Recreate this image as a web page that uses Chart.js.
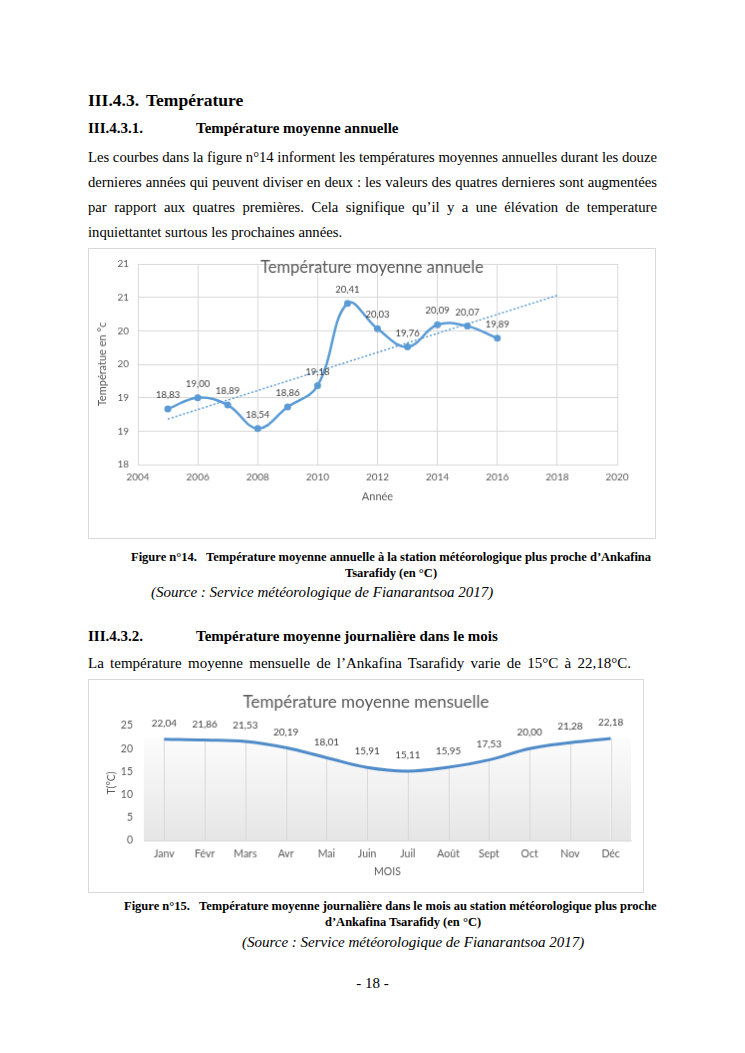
<!DOCTYPE html>
<html lang="fr">
<head>
<meta charset="utf-8">
<title>Température</title>
<script src="https://cdn.jsdelivr.net/npm/chart.js@4.4.1/dist/chart.umd.min.js"></script>
<style>
  html, body { margin: 0; padding: 0; background: #fff; }
  body { width: 745px; height: 1053px; position: relative; overflow: hidden;
         font-family: "Liberation Serif", "Times New Roman", serif; color: #000; }
  .t { position: absolute; white-space: nowrap; line-height: 20px; }
  .h1 { font-weight: bold; font-size: 17.5px; }
  .h2 { font-weight: bold; font-size: 15px; }
  .p { position: absolute; left: 88px; font-size: 14.7px; line-height: 20px; white-space: nowrap; }
  .cap { font-weight: bold; font-size: 12.5px; }
  .src { font-style: italic; font-size: 15px; }
  canvas { position: absolute; border: 1px solid #d9d9d9; }
</style>
</head>
<body>

<div class="t h1" style="left:88px; top:90px;">III.4.3.</div>
<div class="t h1" style="left:146px; top:90px;">Température</div>
<div class="t h2" style="left:88px; top:118px;">III.4.3.1.</div>
<div class="t h2" style="left:196px; top:118px;">Température moyenne annuelle</div>

<div class="p fit" data-w="569" style="top:147px;">Les courbes dans la figure n°14 informent les températures moyennes annuelles durant les douze</div>
<div class="p fit" data-w="569" style="top:172px;">dernieres années qui peuvent diviser en deux : les valeurs des quatres dernieres sont augmentées</div>
<div class="p fit" data-w="569" style="top:197px;">par rapport aux quatres premières. Cela signifique qu’il y a une élévation de temperature</div>
<div class="p" style="top:222px;">inquiettantet surtous les prochaines années.</div>

<canvas id="chart-annuel" width="568" height="291" style="left:88px; top:248px;"></canvas>

<div class="t cap" style="left:131px; top:547px;">Figure n°14.&nbsp;&nbsp; Température moyenne annuelle à la station météorologique plus proche d’Ankafina</div>
<div class="t cap" style="left:345px; top:563px;">Tsarafidy (en °C)</div>
<div class="t src" style="left:151px; top:582px;">(Source : Service météorologique de Fianarantsoa 2017)</div>

<div class="t h2" style="left:88px; top:626px;">III.4.3.2.</div>
<div class="t h2" style="left:196px; top:626px;">Température moyenne journalière dans le mois</div>
<div class="p fit" data-w="543" style="top:653px; font-size:15px;">La température moyenne mensuelle de l’Ankafina Tsarafidy varie de 15°C à 22,18°C.</div>

<canvas id="chart-mensuel" width="556" height="214" style="left:88px; top:679px;"></canvas>

<div class="t cap" style="left:124px; top:896px;">Figure n°15.&nbsp;&nbsp; Température moyenne journalière dans le mois au station météorologique plus proche</div>
<div class="t cap" style="left:325px; top:912px;">d’Ankafina Tsarafidy (en °C)</div>
<div class="t src" style="left:242px; top:932px;">(Source : Service météorologique de Fianarantsoa 2017)</div>

<div class="t" style="left:0; width:745px; text-align:center; top:973px; font-size:15px;">- 18 -</div>

<script>
// Figure 14 - température moyenne annuelle
const annees = [2005, 2006, 2007, 2008, 2009, 2010, 2011, 2012, 2013, 2014, 2015, 2016];
const tempAnnuelle = [18.83, 19.00, 18.89, 18.54, 18.86, 19.18, 20.41, 20.03, 19.76, 20.09, 20.07, 19.89];
// courbe de tendance (pointillés)
const tendanceAnnees = [2005, 2018];
const tendanceValeurs = [18.68, 20.53];
const anneeTicks = ['2004', '2006', '2008', '2010', '2012', '2014', '2016', '2018', '2020'];
const tempTicks = ['18', '19', '19', '20', '20', '21', '21'];

// Figure 15 - température moyenne mensuelle
const mois = ['Janv', 'Févr', 'Mars', 'Avr', 'Mai', 'Juin', 'Juil', 'Août', 'Sept', 'Oct', 'Nov', 'Déc'];
const tempMensuelle = [22.04, 21.86, 21.53, 20.19, 18.01, 15.91, 15.11, 15.95, 17.53, 20.00, 21.28, 22.18];
const mensuelTicks = ['0', '5', '10', '15', '20', '25'];

// Justification : chaque ligne remplit la largeur voulue
document.querySelectorAll('.p.fit').forEach(el => {
    const w = el.getBoundingClientRect().width;
    const espaces = (el.textContent.match(/ /g) || []).length;
    el.style.wordSpacing = ((Number(el.dataset.w) - w) / espaces) + 'px';
});

const police = 'Lato, "Open Sans", sans-serif';
const gris = '#595959';
const grille = '#d9d9d9';
const bleu = '#5b9bd5';

// Titre posé dans la zone de traçage (comme dans Excel)
const titreInterne = {
    id: 'titreInterne',
    afterDraw(chart, args, opts) {
        const ctx = chart.ctx;
        ctx.save();
        ctx.font = opts.size + 'px ' + police;
        ctx.fillStyle = gris;
        ctx.textAlign = 'center';
        ctx.textBaseline = 'middle';
        ctx.fillText(opts.text, chart.width / 2, opts.y);
        ctx.restore();
    }
};

// Étiquettes de valeurs au-dessus des points
const etiquettes = {
    id: 'etiquettes',
    afterDatasetsDraw(chart, args, opts) {
        const ctx = chart.ctx;
        const meta = chart.getDatasetMeta(0);
        const valeurs = chart.data.datasets[0].data;
        ctx.save();
        ctx.font = opts.size + 'px ' + police;
        ctx.fillStyle = '#404040';
        ctx.textAlign = 'center';
        ctx.textBaseline = 'middle';
        meta.data.forEach((pt, i) => {
            const v = typeof valeurs[i] === 'object' ? valeurs[i].y : valeurs[i];
            ctx.fillText(v.toFixed(2).replace('.', ','), pt.x, pt.y - opts.decalage);
        });
        ctx.restore();
    }
};

function degradeAire(chart) {
    const a = chart.chartArea;
    const g = chart.ctx.createLinearGradient(0, a.top, 0, a.bottom);
    g.addColorStop(0, '#ffffff');
    g.addColorStop(1, '#e6e6e6');
    return g;
}

// Lignes de projection et bords de l'aire (figure 15)
const projections = {
    id: 'projections',
    beforeDatasetsDraw(chart) {
        const {ctx, chartArea, scales} = chart;
        const pts = chart.getDatasetMeta(0).data;
        const base = scales.y.getPixelForValue(0);
        const premier = pts[0];
        const dernier = pts[pts.length - 1];
        ctx.save();
        ctx.fillStyle = degradeAire(chart);
        ctx.fillRect(chartArea.left, premier.y, premier.x - chartArea.left, base - premier.y);
        ctx.fillRect(dernier.x, dernier.y, chartArea.right - dernier.x, base - dernier.y);
        ctx.strokeStyle = grille;
        ctx.lineWidth = 1;
        pts.forEach(p => {
            const x = Math.round(p.x) + 0.5;
            ctx.beginPath();
            ctx.moveTo(x, p.y);
            ctx.lineTo(x, base);
            ctx.stroke();
        });
        ctx.restore();
    }
};

// Graphique annuel
new Chart(document.getElementById('chart-annuel'), {
    type: 'line',
    data: {
        datasets: [
            {
                data: annees.map((a, i) => ({x: a, y: tempAnnuelle[i]})),
                borderColor: bleu,
                backgroundColor: bleu,
                borderWidth: 2.5,
                pointRadius: 3.5,
                pointBackgroundColor: bleu,
                pointBorderWidth: 0,
                tension: 0.4
            },
            {
                data: tendanceAnnees.map((a, i) => ({x: a, y: tendanceValeurs[i]})),
                borderColor: bleu,
                borderWidth: 1.5,
                borderDash: [2, 2],
                pointRadius: 0,
                tension: 0
            }
        ]
    },
    options: {
        responsive: false,
        animation: false,
        layout: { padding: { top: 7, right: 38, left: 0, bottom: 0 } },
        plugins: {
            legend: { display: false },
            tooltip: { enabled: false },
            titreInterne: { text: 'Température moyenne annuele', size: 16.5, y: 19 },
            etiquettes: { size: 9.5, decalage: 14 }
        },
        scales: {
            x: {
                type: 'linear',
                min: 2004,
                max: 2020,
                ticks: {
                    stepSize: 2,
                    padding: 7,
                    color: gris,
                    font: { family: police, size: 10 },
                    callback: (v, i) => anneeTicks[i]
                },
                grid: { color: grille, drawTicks: false },
                border: { color: grille },
                title: {
                    display: true, text: 'Année', color: gris,
                    font: { family: police, size: 11 },
                    padding: { top: 0, bottom: 35 }
                },
                afterFit: s => { s.height = 74; }
            },
            y: {
                min: 18,
                max: 21,
                ticks: {
                    stepSize: 0.5,
                    padding: 9,
                    color: gris,
                    font: { family: police, size: 10 },
                    callback: (v, i) => tempTicks[i]
                },
                grid: { color: grille, drawTicks: false },
                border: { color: grille },
                title: {
                    display: true, text: 'Températue en °c', color: gris,
                    font: { family: police, size: 11 },
                    padding: { top: 7, bottom: 0 }
                },
                afterFit: s => { s.width = 49; }
            }
        }
    },
    plugins: [titreInterne, etiquettes]
});

// Graphique mensuel
new Chart(document.getElementById('chart-mensuel'), {
    type: 'line',
    data: {
        labels: mois,
        datasets: [{
            data: tempMensuelle,
            borderColor: '#4f8bc9',
            borderWidth: 3,
            pointRadius: 0,
            tension: 0.4,
            fill: 'origin',
            backgroundColor: ctx => ctx.chart.chartArea ? degradeAire(ctx.chart) : '#eeeeee'
        }]
    },
    options: {
        responsive: false,
        animation: false,
        layout: { padding: { top: 46, right: 12, left: 0, bottom: 0 } },
        plugins: {
            legend: { display: false },
            tooltip: { enabled: false },
            filler: { drawTime: 'beforeDatasetsDraw' },
            titreInterne: { text: 'Température moyenne mensuelle', size: 17, y: 23 },
            etiquettes: { size: 10, decalage: 16 }
        },
        scales: {
            x: {
                offset: true,
                ticks: {
                    padding: 7,
                    color: gris,
                    font: { family: police, size: 10.5 }
                },
                grid: { display: false, drawTicks: false },
                border: { color: grille },
                title: {
                    display: true, text: 'MOIS', color: gris,
                    font: { family: police, size: 10.5 },
                    padding: { top: 0, bottom: 14 }
                },
                afterFit: s => { s.height = 52; }
            },
            y: {
                min: 0,
                max: 25,
                ticks: {
                    stepSize: 5,
                    padding: 11,
                    color: gris,
                    font: { family: police, size: 10.5 },
                    callback: (v, i) => mensuelTicks[i]
                },
                grid: { display: false, drawTicks: false },
                border: { display: false },
                title: {
                    display: true, text: 'T(°C)', color: gris,
                    font: { family: police, size: 10.5 },
                    padding: { top: 16, bottom: 0 }
                },
                afterFit: s => { s.width = 55; }
            }
        }
    },
    plugins: [projections, titreInterne, etiquettes]
});
</script>
</body>
</html>
